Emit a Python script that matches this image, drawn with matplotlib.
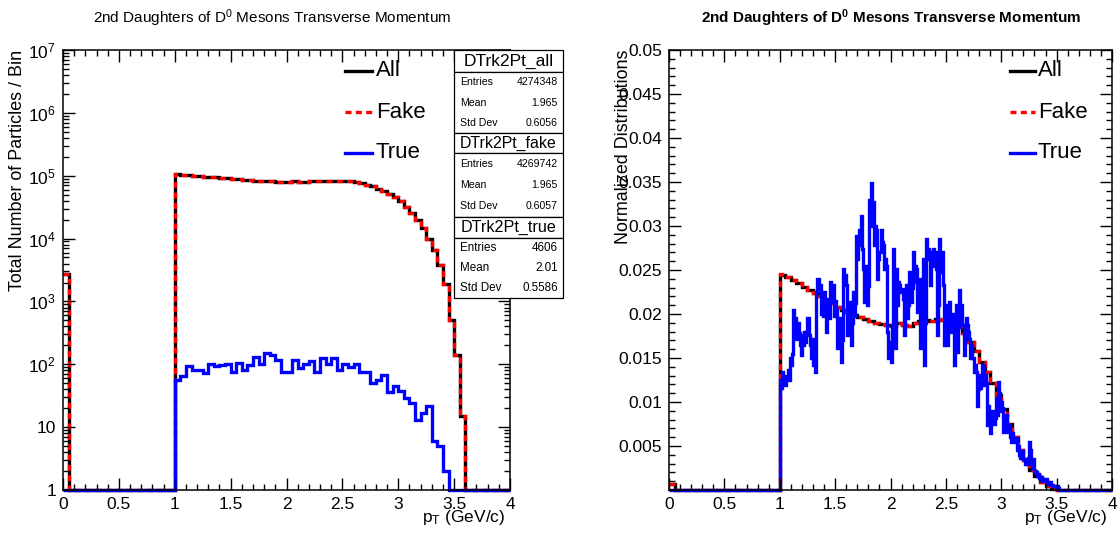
import numpy as np
import matplotlib
matplotlib.use("Agg")
import matplotlib.pyplot as plt
from matplotlib.patches import Rectangle
from matplotlib.lines import Line2D
from matplotlib.ticker import MultipleLocator, FuncFormatter, LogLocator, NullFormatter, FixedLocator

plt.rcParams['font.family'] = ['Liberation Sans', 'DejaVu Sans']
plt.rcParams['mathtext.fontset'] = 'custom'
plt.rcParams['mathtext.rm'] = 'Liberation Sans'
plt.rcParams['mathtext.it'] = 'Liberation Sans:italic'
plt.rcParams['mathtext.bf'] = 'Liberation Sans:bold'
plt.rcParams['mathtext.default'] = 'regular'

# ---------------- data ----------------
# 80 bins of 0.05 GeV/c over [0, 4]
coarse_edges = np.linspace(0.0, 4.0, 81)
fake_counts = ([2700] + [0] * 19 +
               [104600, 103300, 102000, 100300, 98600, 96900, 95600, 93900, 92200, 90500,
                88800, 87500, 86200, 85000, 83700, 82800, 82000, 81100, 80700, 80300,
                79800, 81100, 80300, 79400, 81100, 82000, 82400, 82000, 82800, 82400,
                83300, 82400, 80300, 76000, 71700, 67500, 62300, 57200, 51700, 46100,
                39300, 32000, 25500, 19500, 14500, 9800, 6600, 3800, 1900, 500,
                142, 15] +
               [0] * 8)
true_counts = ([0] * 20 +
               [57, 65, 95, 80, 82, 72, 100, 95, 98, 100,
                75, 105, 82, 97, 130, 102, 152, 140, 118, 76,
                76, 118, 86, 102, 112, 75, 126, 101, 126, 82,
                102, 90, 102, 76, 76, 50, 57, 67, 36, 45,
                37, 29, 24, 13, 17, 22, 6, 5, 2] +
               [0] * 11)

# 400 bins of 0.01 GeV/c over [0, 4], normalized true-daughter distribution
fine_edges = np.linspace(0.0, 4.0, 401)
true_norm_fine = ([0.0] * 100 +
                  [0.0125, 0.0116, 0.0134, 0.0122, 0.0130, 0.0119, 0.0128, 0.0136, 0.0125,
                   0.0150, 0.0142, 0.0155, 0.0204, 0.0182, 0.0195, 0.0172, 0.0190, 0.0178,
                   0.0165, 0.0153, 0.0176, 0.0165, 0.0180, 0.0168, 0.0180, 0.0195, 0.0176,
                   0.0165, 0.0150, 0.0172, 0.0142, 0.0158, 0.0134, 0.0225, 0.0240, 0.0228,
                   0.0233, 0.0200, 0.0214, 0.0198, 0.0225, 0.0207, 0.0180, 0.0217, 0.0195,
                   0.0236, 0.0214, 0.0225, 0.0233, 0.0198, 0.0215, 0.0206, 0.0161, 0.0185,
                   0.0195, 0.0146, 0.0170, 0.0251, 0.0236, 0.0244, 0.0233, 0.0176, 0.0202,
                   0.0214, 0.0165, 0.0190, 0.0225, 0.0198, 0.0212, 0.0289, 0.0263, 0.0278,
                   0.0296, 0.0311, 0.0274, 0.0251, 0.0214, 0.0236, 0.0255, 0.0210, 0.0232,
                   0.0330, 0.0349, 0.0300, 0.0327, 0.0278, 0.0300, 0.0296, 0.0240, 0.0262,
                   0.0270, 0.0296, 0.0282, 0.0278, 0.0251, 0.0262, 0.0255, 0.0180, 0.0150,
                   0.0168, 0.0146, 0.0187, 0.0274, 0.0200, 0.0161, 0.0251, 0.0210, 0.0236,
                   0.0233, 0.0225, 0.0228, 0.0217, 0.0176, 0.0195, 0.0233, 0.0195, 0.0210,
                   0.0248, 0.0214, 0.0230, 0.0270, 0.0236, 0.0255, 0.0251, 0.0202, 0.0225,
                   0.0240, 0.0161, 0.0200, 0.0263, 0.0142, 0.0190, 0.0285, 0.0263, 0.0274,
                   0.0270, 0.0233, 0.0255, 0.0274, 0.0263, 0.0270, 0.0251, 0.0176, 0.0210,
                   0.0285, 0.0248, 0.0270, 0.0233, 0.0165, 0.0200, 0.0210, 0.0165, 0.0190,
                   0.0214, 0.0180, 0.0200, 0.0195, 0.0142, 0.0170, 0.0210, 0.0157, 0.0185,
                   0.0227, 0.0195, 0.0210, 0.0187, 0.0153, 0.0170, 0.0195, 0.0187, 0.0180,
                   0.0172, 0.0150, 0.0165, 0.0150, 0.0134, 0.0142, 0.0134, 0.0096, 0.0115,
                   0.0131, 0.0116, 0.0125, 0.0142, 0.0119, 0.0131, 0.0122, 0.0074, 0.0095,
                   0.0085, 0.0065, 0.0078, 0.0090, 0.0075, 0.0082, 0.0105, 0.0085, 0.0123,
                   0.0110, 0.0090, 0.0100, 0.0093, 0.0066, 0.0080, 0.0085, 0.0070, 0.0066,
                   0.0074, 0.0060, 0.0055, 0.0065, 0.0058, 0.0055, 0.0059, 0.0045, 0.0050,
                   0.0040, 0.0036, 0.0042, 0.0044, 0.0035, 0.0030, 0.0032, 0.0029, 0.0036,
                   0.0055, 0.0045, 0.0030, 0.0025, 0.0035, 0.0022, 0.0021, 0.0016, 0.0018,
                   0.0014, 0.0012, 0.0015, 0.0010, 0.0013, 0.0011, 0.0012, 0.0008, 0.0009,
                   0.0007, 0.0009, 0.0006, 0.0006, 0.0005, 0.0004, 0.0003, 0.0004, 0.0002] +
                  [0.0] * 48)

stat_names = ["DTrk2Pt_all", "DTrk2Pt_fake", "DTrk2Pt_true"]
stat_entries = [4274348, 4269742, 4606]
stat_means = ["1.965", "1.965", "2.01"]
stat_stddevs = ["0.6056", "0.6057", "0.5586"]

legend_labels = ["All", "Fake", "True"]
title_text = "2nd Daughters of D$^{0}$ Mesons Transverse Momentum"
xlabel_text = "p$_{T}$ (GeV/c)"

fake_counts = np.array(fake_counts, dtype=float)
true_counts = np.array(true_counts, dtype=float)
all_counts = fake_counts + true_counts
true_norm_fine = np.array(true_norm_fine)

# ---------------- figure ----------------
W, H = 1118, 533
fig = plt.figure(figsize=(W / 100, H / 100), dpi=100)


def px_axes(x0, y0, x1, y1):
    return fig.add_axes([x0 / W, 1 - y1 / H, (x1 - x0) / W, (y1 - y0) / H])


axL = px_axes(63, 50, 510, 490)
axR = px_axes(669, 50, 1112, 490)

LW = 2.4
DASH = (0, (1.8, 1.3))
styles = [dict(color='black', lw=LW, ls='-'),
          dict(color='red', lw=LW, ls=DASH),
          dict(color='blue', lw=LW, ls='-')]

# left: counts per bin, log scale (empty bins sit on the axis minimum)
ymin = 1.0
for vals, st in zip([all_counts, fake_counts, true_counts], styles):
    axL.stairs(np.maximum(vals, ymin), coarse_edges, baseline=None, clip_on=False, **st)
axL.set_yscale('log')
axL.set_ylim(1, 1e7)
axL.set_xlim(0, 4)

# right: normalized distributions
axR.stairs(all_counts / stat_entries[0], coarse_edges, baseline=None, clip_on=False, **styles[0])
axR.stairs(fake_counts / stat_entries[1], coarse_edges, baseline=None, clip_on=False, **styles[1])
axR.stairs(true_norm_fine, fine_edges, baseline=None, clip_on=False, **styles[2])
axR.set_xlim(0, 4)
axR.set_ylim(0, 0.05)

for ax in (axL, axR):
    for sp in ax.spines.values():
        sp.set_linewidth(1.1)
    ax.tick_params(which='both', direction='in', top=True, right=True,
                   labelsize=12.5, width=1.0, pad=5)
    ax.tick_params(which='major', length=8.5)
    ax.tick_params(which='minor', length=4)
    ax.xaxis.set_major_locator(MultipleLocator(0.5))
    ax.xaxis.set_minor_locator(MultipleLocator(0.1))
    ax.xaxis.set_major_formatter(FuncFormatter(lambda v, p: f"{v:g}"))
    ax.set_xlabel(xlabel_text, fontsize=12.5, loc='right')
    ax.xaxis.set_label_coords(0.99, -0.04)


def log_label(v, p):
    n = int(round(np.log10(v)))
    if n == 0:
        return "1"
    if n == 1:
        return "10"
    return f"$10^{{{n}}}$"


axL.yaxis.set_major_locator(FixedLocator([10.0 ** k for k in range(0, 8)]))
axL.yaxis.set_minor_locator(LogLocator(base=10, subs=np.arange(2, 10), numticks=20))
axL.yaxis.set_minor_formatter(NullFormatter())
axL.yaxis.set_major_formatter(FuncFormatter(log_label))

axR.yaxis.set_major_locator(MultipleLocator(0.005))
axR.yaxis.set_minor_locator(MultipleLocator(0.001))
axR.yaxis.set_major_formatter(FuncFormatter(lambda v, p: "" if abs(v) < 1e-9 else f"{v:g}"))

axL.set_ylabel("Total Number of Particles / Bin", fontsize=12.9, loc='top')
axL.yaxis.set_label_coords(-0.083, 1.0)
axR.set_ylabel("Normalized Distributions", fontsize=12.9, loc='top')
axR.yaxis.set_label_coords(-0.083, 1.0)

# titles
fig.text(272 / W, 1 - 18 / H, title_text, ha='center', va='center', fontsize=11)
fig.text(891 / W, 1 - 18 / H, "2nd Daughters of D$\\mathbf{^{0}}$ Mesons Transverse Momentum",
         ha='center', va='center', fontsize=11, fontweight='bold')

# legends
def draw_legend(ax, x0, x1, xt, ys):
    for lab, st, y in zip(legend_labels, styles, ys):
        ax.add_line(Line2D([x0, x1], [y, y], transform=ax.transAxes, clip_on=False, **st))
        ax.text(xt, y, lab, transform=ax.transAxes, ha='left', va='center', fontsize=16)


draw_legend(axL, (345 - 63) / 447, (372 - 63) / 447, (376 - 63) / 447,
            [(490 - 71) / 440, (490 - 112) / 440, (490 - 153) / 440])
draw_legend(axR, (1010 - 669) / 443, (1035 - 669) / 443, (1038 - 669) / 443,
            [(490 - 71) / 440, (490 - 112) / 440, (490 - 153) / 440])

# statistics boxes
bx0, bx1 = 454, 563
blocks = [(50, 72, 133), (133, 153, 217), (217, 238, 298)]
head_sizes = [12.5, 11.4, 11.6]
body_sizes = [7.6, 7.6, 8.4]
for i, (top, mid, bot) in enumerate(blocks):
    for (ya, yb) in [(top, mid), (mid, bot)]:
        fig.add_artist(Rectangle((bx0 / W, 1 - yb / H), (bx1 - bx0) / W, (yb - ya) / H,
                                 transform=fig.transFigure, facecolor='white',
                                 edgecolor='black', lw=0.9))
    fig.text((bx0 + bx1) / 2 / W, 1 - (top + mid) / 2 / H, stat_names[i],
             ha='center', va='center', fontsize=head_sizes[i])
    rows = [("Entries", f"{stat_entries[i]}"), ("Mean", stat_means[i]),
            ("Std Dev", stat_stddevs[i])]
    step = (bot - mid) / 3
    for j, (k, v) in enumerate(rows):
        yy = 1 - (mid + step * (j + 0.5)) / H
        fig.text((bx0 + 6) / W, yy, k, ha='left', va='center', fontsize=body_sizes[i])
        fig.text((bx1 - 5) / W, yy, v, ha='right', va='center', fontsize=body_sizes[i])

fig.savefig("out.png", dpi=100)
